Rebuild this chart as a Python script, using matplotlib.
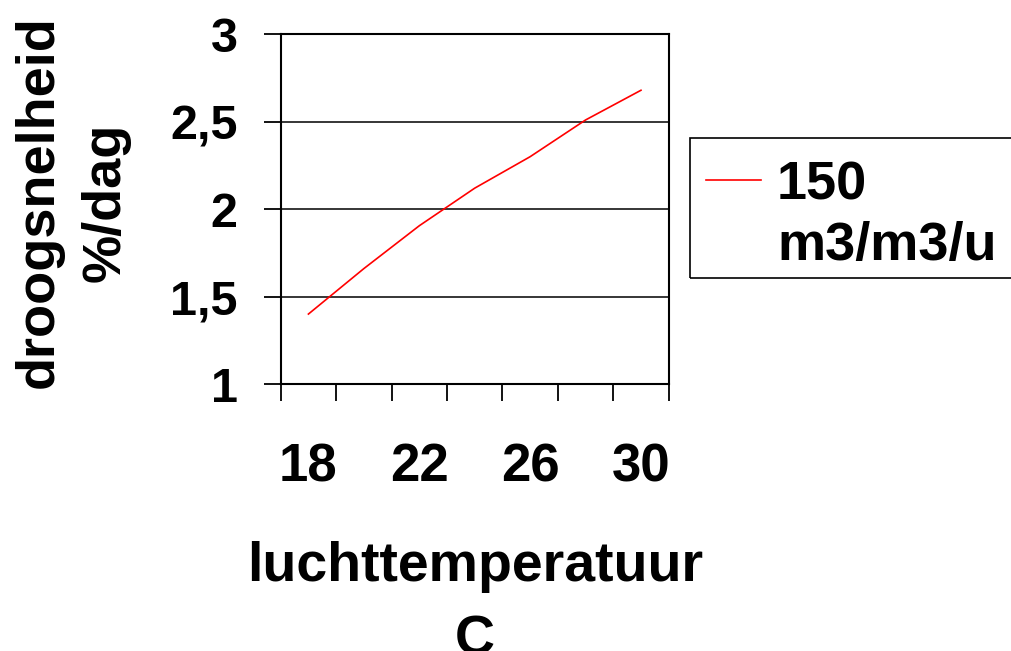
import matplotlib
matplotlib.use("Agg")
import matplotlib.pyplot as plt
from matplotlib.lines import Line2D
from matplotlib.patches import Rectangle
import numpy as np

plt.rcParams['font.family'] = ['Liberation Sans', 'DejaVu Sans']
plt.rcParams['font.weight'] = 'bold'

# data
temperaturen = [18, 20, 22, 24, 26, 28, 30]
droogsnelheid = [1.40, 1.66, 1.905, 2.12, 2.30, 2.51, 2.68]
reeks_naam = "150"
reeks_eenheid = "m3/m3/u"
y_ticks = [1, 1.5, 2, 2.5, 3]
y_tick_labels = ["1", "1,5", "2", "2,5", "3"]
x_label_every = 2

W, H = 1011, 651
fig = plt.figure(figsize=(W / 100, H / 100), dpi=100)
ax = fig.add_axes([280.7 / W, 1 - 384 / H, 388 / W, 349.7 / H])

pos = np.arange(len(temperaturen))
ax.plot(pos, droogsnelheid, color='#ff0000', linewidth=1.2, solid_joinstyle='round')

# y axis
ax.set_ylim(1, 3)
ax.set_yticks(y_ticks)
ax.set_yticklabels(y_tick_labels)
ax.yaxis.grid(True, color='black', linewidth=1.1)
ax.set_axisbelow(True)
ax.tick_params(axis='y', direction='out', length=12, width=1.3, pad=19, labelsize=35)

# x axis: category axis, tick marks between categories
ax.set_xlim(-0.5, len(temperaturen) - 0.5)
ax.set_xticks(pos[::x_label_every])
ax.set_xticklabels([str(t) for t in temperaturen[::x_label_every]])
ax.set_xticks(np.arange(-0.5, len(temperaturen), 1), minor=True)
ax.tick_params(axis='x', which='major', length=0, pad=42, labelsize=38)
ax.tick_params(axis='x', which='minor', direction='out', length=12, width=1.3)

for s in ax.spines.values():
    s.set_linewidth(1.5)
    s.set_color('black')

fig.text(72 / W, 1 - 202 / H, "droogsnelheid\n%/dag", rotation=90,
         ha='center', va='center', multialignment='center',
         fontsize=39, fontweight='bold', linespacing=1.43)
fig.text(474.7 / W, 1 - 541 / H, "luchttemperatuur\nC",
         ha='center', va='top', multialignment='center',
         fontsize=40, fontweight='bold', linespacing=1.53)

# legend box (runs off the right edge like in the original)
fig.add_artist(Rectangle((690 / W, 1 - 278 / H), 340 / W, 140 / H,
                         transform=fig.transFigure, fill=False,
                         edgecolor='black', linewidth=1.2))
# handle sits next to the first line only
handles = [Line2D([], [], color='#ff0000', linewidth=1.2),
           Line2D([], [], color='none')]
leg = fig.legend(handles, [reeks_naam, reeks_eenheid],
                 loc='upper left', bbox_to_anchor=(706 / W, 1 - 160 / H),
                 prop={'size': 39, 'weight': 'bold'}, frameon=False,
                 handlelength=1.01, handletextpad=0.3, borderpad=0,
                 labelspacing=0.2, borderaxespad=0)

fig.savefig("out.png", dpi=100)
